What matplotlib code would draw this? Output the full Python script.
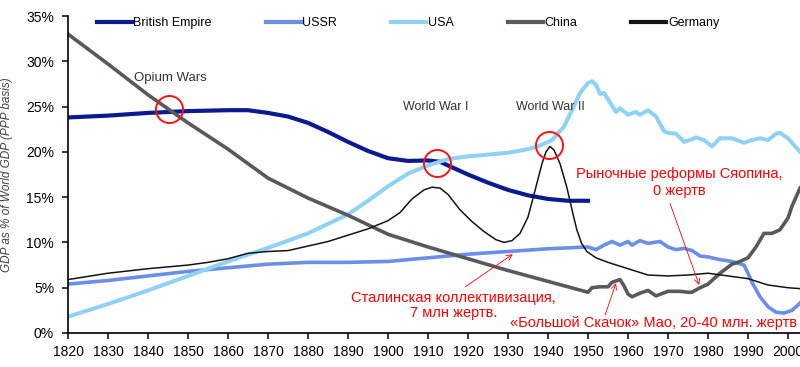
import matplotlib
matplotlib.use('Agg')
import matplotlib.pyplot as plt
from matplotlib.ticker import FuncFormatter

plt.rcParams['font.family'] = ['Liberation Sans', 'DejaVu Sans']

# share of world GDP, %
brit_years = [1820, 1830, 1840, 1850, 1860, 1865, 1870, 1875, 1880, 1885, 1890, 1895,
              1900, 1905, 1910, 1913, 1916, 1920, 1925, 1930, 1935, 1940, 1945, 1950]
brit = [23.8, 24.0, 24.3, 24.5, 24.6, 24.6, 24.3, 23.9, 23.2, 22.2, 21.1, 20.1,
        19.3, 19.0, 19.05, 18.9, 18.3, 17.5, 16.6, 15.8, 15.2, 14.8, 14.6, 14.6]

ussr_years = [1820, 1830, 1840, 1850, 1860, 1870, 1880, 1890, 1900, 1910, 1920, 1930,
              1940, 1950, 1952, 1954, 1956, 1958, 1960, 1961, 1963, 1965, 1968, 1970,
              1972, 1974, 1976, 1978, 1980, 1983, 1986, 1989, 1990, 1991, 1993, 1995,
              1997, 1999, 2001, 2003]
ussr = [5.4, 5.8, 6.3, 6.8, 7.2, 7.6, 7.8, 7.8, 7.9, 8.3, 8.7, 9.0,
        9.3, 9.5, 9.2, 9.7, 10.1, 9.7, 10.1, 9.7, 10.2, 9.9, 10.1, 9.5,
        9.2, 9.35, 9.1, 8.5, 8.4, 8.1, 7.9, 7.5, 6.6, 5.6, 4.0, 2.9,
        2.3, 2.2, 2.5, 3.3]

usa_years = [1820, 1830, 1840, 1850, 1860, 1870, 1880, 1890, 1895, 1900, 1905, 1910,
             1915, 1920, 1925, 1930, 1935, 1938, 1941, 1943, 1944, 1946, 1948, 1950,
             1951, 1952, 1953, 1954, 1955, 1957, 1958, 1960, 1962, 1963, 1965, 1967,
             1969, 1970, 1972, 1974, 1976, 1977, 1979, 1981, 1983, 1986, 1989, 1991,
             1993, 1995, 1997, 1998, 2000, 2003]
usa = [1.8, 3.2, 4.7, 6.3, 7.9, 9.4, 11.0, 13.1, 14.6, 16.2, 17.6, 18.5,
       19.2, 19.5, 19.7, 19.9, 20.3, 20.7, 21.3, 22.3, 22.8, 24.6, 26.5, 27.6,
       27.8, 27.4, 26.4, 26.5, 25.8, 24.4, 24.8, 24.1, 24.4, 24.1, 24.6, 23.9,
       22.3, 22.1, 22.0, 21.1, 21.4, 21.6, 21.3, 20.6, 21.5, 21.5, 21.0, 21.3,
       21.5, 21.3, 22.0, 22.1, 21.5, 20.0]

china_years = [1820, 1830, 1840, 1850, 1860, 1870, 1880, 1890, 1900, 1910, 1920, 1930,
               1940, 1950, 1951, 1953, 1955, 1956, 1958, 1959, 1960, 1961, 1963, 1965,
               1967, 1970, 1973, 1975, 1976, 1978, 1980, 1983, 1986, 1988, 1990, 1992,
               1994, 1996, 1998, 2000, 2001, 2003]
china = [33.0, 29.7, 26.3, 23.2, 20.3, 17.1, 14.9, 13.0, 10.9, 9.5, 8.2, 6.9,
         5.7, 4.5, 5.0, 5.1, 5.1, 5.6, 5.9, 5.2, 4.3, 4.0, 4.4, 4.7,
         4.1, 4.6, 4.6, 4.5, 4.5, 5.0, 5.4, 6.6, 7.6, 7.9, 8.3, 9.5,
         11.0, 11.0, 11.4, 12.7, 14.0, 16.0]

ger_years = [1820, 1830, 1840, 1850, 1855, 1860, 1865, 1870, 1875, 1880, 1885, 1890,
             1895, 1900, 1903, 1906, 1909, 1911, 1913, 1915, 1918, 1921, 1924, 1927,
             1929, 1931, 1933, 1935, 1936.5, 1938.5, 1939.5, 1940.5, 1941.5, 1943, 1944.7,
             1946, 1947.2, 1948.4, 1949.7, 1952, 1955, 1960, 1965, 1970, 1975, 1980,
             1985, 1990, 1995, 2000, 2003]
ger = [5.9, 6.6, 7.1, 7.5, 7.8, 8.2, 8.8, 9.0, 9.1, 9.6, 10.1, 10.8,
       11.5, 12.4, 13.3, 14.8, 15.8, 16.1, 16.0, 15.3, 13.6, 12.3, 11.2, 10.3,
       10.0, 10.2, 11.0, 12.8, 15.3, 18.7, 20.0, 20.6, 20.2, 18.7, 16.1,
       13.6, 11.4, 9.9, 9.0, 8.3, 7.8, 7.1, 6.4, 6.3, 6.4, 6.6,
       6.3, 6.0, 5.3, 5.0, 4.9]

# red circles: Opium Wars, WWI, WWII
circle_x = [1845.3, 1912.2, 1940.3]
circle_y = [24.7, 18.8, 20.75]

x_ticks = list(range(1820, 2001, 10))
y_ticks = [0, 5, 10, 15, 20, 25, 30, 35]

fig = plt.figure(figsize=(8, 3.67), dpi=100)
ax = fig.add_axes([68 / 800, 34 / 367, 732 / 800, 317 / 367])

ax.plot(brit_years, brit, color='#0b1a8f', lw=3.0, label='British Empire')
ax.plot(ussr_years, ussr, color='#6b8ee6', lw=2.6, label='USSR')
ax.plot(usa_years, usa, color='#8fd2f5', lw=2.9, label='USA')
ax.plot(china_years, china, color='#58585f', lw=2.6, label='China')
ax.plot(ger_years, ger, color='#141414', lw=1.1, label='Germany')

ax.plot(circle_x, circle_y, 'o', ms=19.5, mfc='none', mec='#ff1010', mew=1.4, zorder=5)

ax.text(1845.7, 28.1, 'Opium Wars', ha='center', va='center', fontsize=9.5, color='#333333')
ax.text(1911.8, 24.9, 'World War I', ha='center', va='center', fontsize=9, color='#333333')
ax.text(1940.5, 25.0, 'World War II', ha='center', va='center', fontsize=9, color='#333333')

red = '#ff0000'
ax.text(1972.8, 16.6, 'Рыночные реформы Сяопина,\n0 жертв', ha='center', va='center',
        fontsize=10.5, color=red, linespacing=1.25)
ax.text(1916.3, 3.05, 'Сталинская коллективизация,\n7 млн жертв.', ha='center', va='center',
        fontsize=10.5, color=red, linespacing=1.1)
ax.text(1966.3, 1.05, '«Большой Скачок» Мао, 20-40 млн. жертв', ha='center', va='center',
        fontsize=10.5, color=red)

arrow = dict(arrowstyle='->', color=red, lw=0.6, shrinkA=0, shrinkB=0)
ax.annotate('', xy=(1977.8, 5.3), xytext=(1970.5, 14.3), arrowprops=arrow)
ax.annotate('', xy=(1931.2, 8.7), xytext=(1919.3, 5.1), arrowprops=arrow)
ax.annotate('', xy=(1957.0, 5.5), xytext=(1954.3, 2.0), arrowprops=arrow)

ax.set_xlim(1820, 2003)
ax.set_ylim(0, 35)
ax.set_xticks(x_ticks)
ax.set_yticks(y_ticks)
ax.yaxis.set_major_formatter(FuncFormatter(lambda v, p: f'{v:.0f}%'))
ax.tick_params(axis='both', labelsize=10, direction='out', width=1.1, color='black')
ax.tick_params(axis='x', length=4, pad=5)
ax.tick_params(axis='y', length=4, pad=6)

for side in ['top', 'right']:
    ax.spines[side].set_visible(False)
for side in ['left', 'bottom']:
    ax.spines[side].set_linewidth(1.2)
    ax.spines[side].set_color('black')

ax.set_ylabel('GDP as % of World GDP (PPP basis)', fontsize=8.5, style='italic', color='#404040')
ax.yaxis.set_label_coords(-55 / 732, 0.5)

leg = ax.legend(ncol=5, loc='center left', bbox_to_anchor=(0.039, 0.978), frameon=False,
                fontsize=9, handlelength=2.8, handletextpad=0.15, columnspacing=4.3,
                borderaxespad=0, borderpad=0)
for h in leg.get_lines():
    h.set_linewidth(3.0)

fig.savefig('out.png', dpi=100)
